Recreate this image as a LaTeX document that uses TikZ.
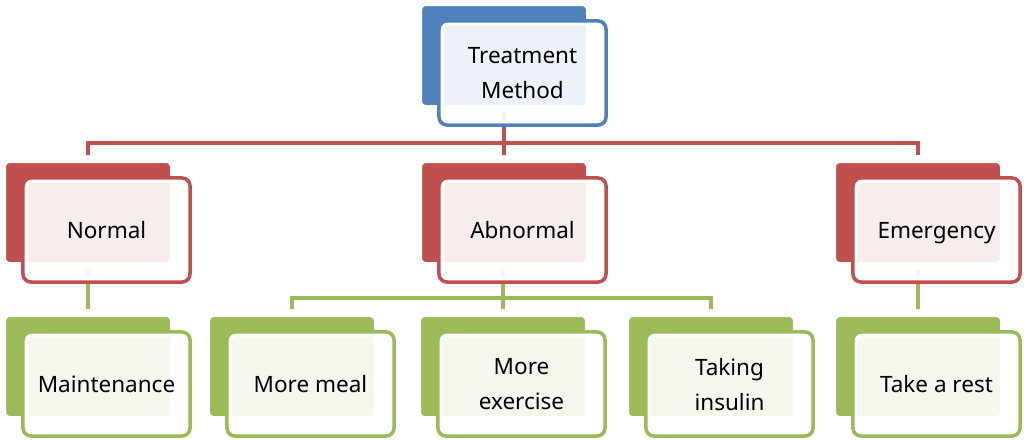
\documentclass[tikz,border=0pt]{standalone}
\usepackage{fontspec}
\setmainfont{Noto Sans}
\usetikzlibrary{calc,backgrounds}

\definecolor{tblue}{HTML}{4F81BD}
\definecolor{tred}{HTML}{C0504D}
\definecolor{tgreen}{HTML}{9BBB59}

\tikzset{
  back/.style={fill=#1, draw=white, line width=4pt, rounded corners=6pt,
    minimum width=168pt, minimum height=103pt, inner sep=0pt, outer sep=6pt},
  front/.style={draw=#1, line width=3.6pt, fill=white, fill opacity=0.9,
    text opacity=1, rounded corners=8pt, minimum width=167pt, minimum height=104pt,
    inner sep=0pt, text depth=0pt, align=center, font=\fontsize{22.5}{35}\selectfont},
  band/.style={white, line width=3pt, rounded corners=6pt},
  link/.style={#1, line width=3.6pt},
}

\begin{document}
\begin{tikzpicture}[x=1pt, y=1pt]

    %% Background
    \useasboundingbox (0,0) rectangle (1024,-439);

    % Boxes
    \foreach \n/\x/\y/\col/\txt in {
      top/504/-55.5/tblue/{Treatment\\Method},
      normal/88/-212.5/tred/Normal,
      abn/504/-212.5/tred/Abnormal,
      emerg/918/-212.5/tred/Emergency,
      maint/88/-366.5/tgreen/Maintenance,
      meal/292/-366.5/tgreen/More meal,
      exer/503/-366.5/tgreen/{More\\exercise},
      insul/711/-366.5/tgreen/{Taking\\insulin},
      rest/918/-366.5/tgreen/Take a rest}
    {
    \node[back=\col] (\n-b) at (\x,\y) {};
    \node[front=\col] (\n) at ($(\n-b)+(18.5,-17.5)$) {\txt};
    \draw[band] ([shift={(5,-5)}]\n.north west) rectangle ([shift={(-5,5)}]\n.south east);
    }

    % Joints
    \coordinate (rj) at (504,-143);
    \coordinate (gj) at (503,-298);

    %Connectors
    \begin{scope}[on background layer]
    \draw[link=tred] (top-b.south) -- (abn-b.north);
    \draw[link=tred] (normal-b.north) |- (rj) -| (emerg-b.north);
    \draw[link=tgreen] (exer-b.north) -- (exer-b.north |- abn-b.south);
    \draw[link=tgreen] (meal-b.north) |- (gj) -| (insul-b.north);
    \draw[link=tgreen] (normal-b.south) -- (maint-b.north);
    \draw[link=tgreen] (emerg-b.south) -- (rest-b.north);
    \end{scope}

\end{tikzpicture}
\end{document}
